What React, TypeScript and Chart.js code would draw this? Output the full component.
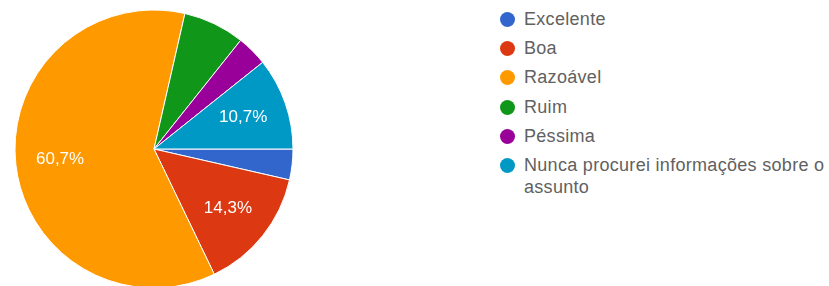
import React, { useEffect, useRef } from "react";
import { Chart, registerables } from "chart.js";

Chart.register(...registerables);

const categories = [
  "Excelente",
  "Boa",
  "Razoável",
  "Ruim",
  "Péssima",
  "Nunca procurei informações sobre o assunto",
];
const legendLines = [
  ["Excelente"],
  ["Boa"],
  ["Razoável"],
  ["Ruim"],
  ["Péssima"],
  ["Nunca procurei informações sobre o", "assunto"],
];
const counts = [1, 4, 17, 2, 1, 3];
const colors = ["#3366cc", "#dc3912", "#ff9900", "#109618", "#990099", "#0099c6"];

const FONT = '"Liberation Sans", Arial, sans-serif';

const sliceLabels = {
  id: "sliceLabels",
  afterDatasetsDraw(chart: any) {
    const ctx = chart.ctx;
    const meta = chart.getDatasetMeta(0);
    const data = chart.data.datasets[0].data as number[];
    const total = data.reduce((a, b) => a + b, 0);
    ctx.save();
    ctx.fillStyle = "#ffffff";
    ctx.font = `17px ${FONT}`;
    ctx.textAlign = "center";
    ctx.textBaseline = "middle";
    meta.data.forEach((arc: any, i: number) => {
      const pct = (data[i] / total) * 100;
      if (pct < 10) return;
      const mid = (arc.startAngle + arc.endAngle) / 2;
      const r = arc.outerRadius * 0.68;
      const x = arc.x + Math.cos(mid) * r;
      const y = arc.y + Math.sin(mid) * r;
      ctx.fillText(pct.toFixed(1).replace(".", ",") + "%", x, y);
    });
    ctx.restore();
  },
};

export default function App() {
  const ref = useRef<HTMLCanvasElement>(null);
  useEffect(() => {
    if (!ref.current) return;
    const chart = new Chart(ref.current, {
      type: "pie",
      data: {
        labels: categories,
        datasets: [
          {
            data: counts,
            backgroundColor: colors,
            borderColor: "#ffffff",
            borderWidth: 1,
          },
        ],
      },
      options: {
        animation: false,
        responsive: false,
        rotation: 90,
        radius: 139,
        layout: { padding: 0 },
        plugins: { legend: { display: false }, tooltip: { enabled: false } },
      },
      plugins: [sliceLabels],
    });
    return () => chart.destroy();
  }, []);

  return (
    <div
      style={{
        position: "fixed",
        left: 0,
        top: 0,
        width: 829,
        height: 286,
        overflow: "hidden",
        background: "#fff",
        fontFamily: FONT,
      }}
    >
      <canvas
        ref={ref}
        width={308}
        height={280}
        style={{ position: "absolute", left: 0, top: 9, width: 308, height: 280 }}
      />
      {legendLines.map((lines, i) => (
        <div key={i} style={{ position: "absolute", left: 500, top: Math.round(19 + i * 29.2) - 11 }}>
          <div
            style={{
              position: "absolute",
              left: 0,
              top: 3.5,
              width: 15,
              height: 15,
              borderRadius: 7.5,
              background: colors[i],
            }}
          />
          <div
            style={{
              position: "absolute",
              left: 24,
              top: 0,
              whiteSpace: "nowrap",
              fontSize: 18,
              letterSpacing: "0.3px",
              lineHeight: "22px",
              color: "#616161",
            }}
          >
            {lines.map((l, j) => (
              <div key={j}>{l}</div>
            ))}
          </div>
        </div>
      ))}
    </div>
  );
}
